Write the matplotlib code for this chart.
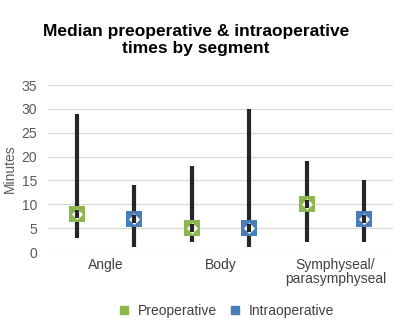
import matplotlib
matplotlib.use("Agg")
import matplotlib.pyplot as plt
import numpy as np
from matplotlib.lines import Line2D

plt.rcParams['font.family'] = ['Liberation Sans', 'DejaVu Sans']

categories = ["Angle", "Body", "Symphyseal/\nparasymphyseal"]
series = ["Preoperative", "Intraoperative"]
pre_median = [8, 5, 10]
pre_low = [3, 2, 2]
pre_high = [29, 18, 19]
intra_median = [7, 5, 7]
intra_low = [1, 1, 2]
intra_high = [14, 30, 15]
yticks = [0, 5, 10, 15, 20, 25, 30, 35]

colors = ["#8DB64C", "#4A7EBB"]

fig = plt.figure(figsize=(4, 3.34), dpi=100)
ax = fig.add_axes([0.12, 0.2455, 0.8625, 0.50])

x = np.arange(len(categories))
offsets = [-0.25, 0.25]
data = [(pre_median, pre_low, pre_high), (intra_median, intra_low, intra_high)]
for i, (med, lo, hi) in enumerate(data):
    xs = x + offsets[i]
    ax.vlines(xs, lo, hi, color="#262626", linewidth=3.0, zorder=2)
    ax.scatter(xs, med, marker="s", s=120, color=colors[i], zorder=3, linewidths=0)
    ax.scatter(xs, med, marker="D", s=32, color="white", zorder=4, linewidths=0)
    ax.scatter(xs, med, marker="|", s=28, color="#262626", zorder=5, linewidths=3.0)

ax.set_xlim(-0.5, 2.5)
ax.set_ylim(0, 35)
ax.set_yticks(yticks)
ax.set_xticks(x)
ax.set_xticklabels(categories, fontsize=10, color="#404040", linespacing=1.0)
ax.tick_params(axis='y', labelsize=10, colors="#595959", length=0, pad=8)
ax.tick_params(axis='x', length=0, pad=4)
ax.grid(axis='y', color="#D9D9D9", linewidth=0.9)
ax.set_axisbelow(True)
for s in ax.spines.values():
    s.set_visible(False)
ax.set_ylabel("Minutes", fontsize=10, color="#595959", labelpad=3)

fig.text(0.49, 0.88, "Median preoperative & intraoperative\ntimes by segment",
         ha="center", va="center", fontsize=12.5, fontweight="bold", linespacing=1.15)

handles = [Line2D([], [], marker="s", linestyle="none", color=c, markersize=6) for c in colors]
fig.legend(handles, series, loc="center", bbox_to_anchor=(0.555, 0.068), ncol=2,
           frameon=False, fontsize=10, handletextpad=0.0, columnspacing=0.3,
           labelcolor="#404040")

fig.savefig("out.png", dpi=100)
